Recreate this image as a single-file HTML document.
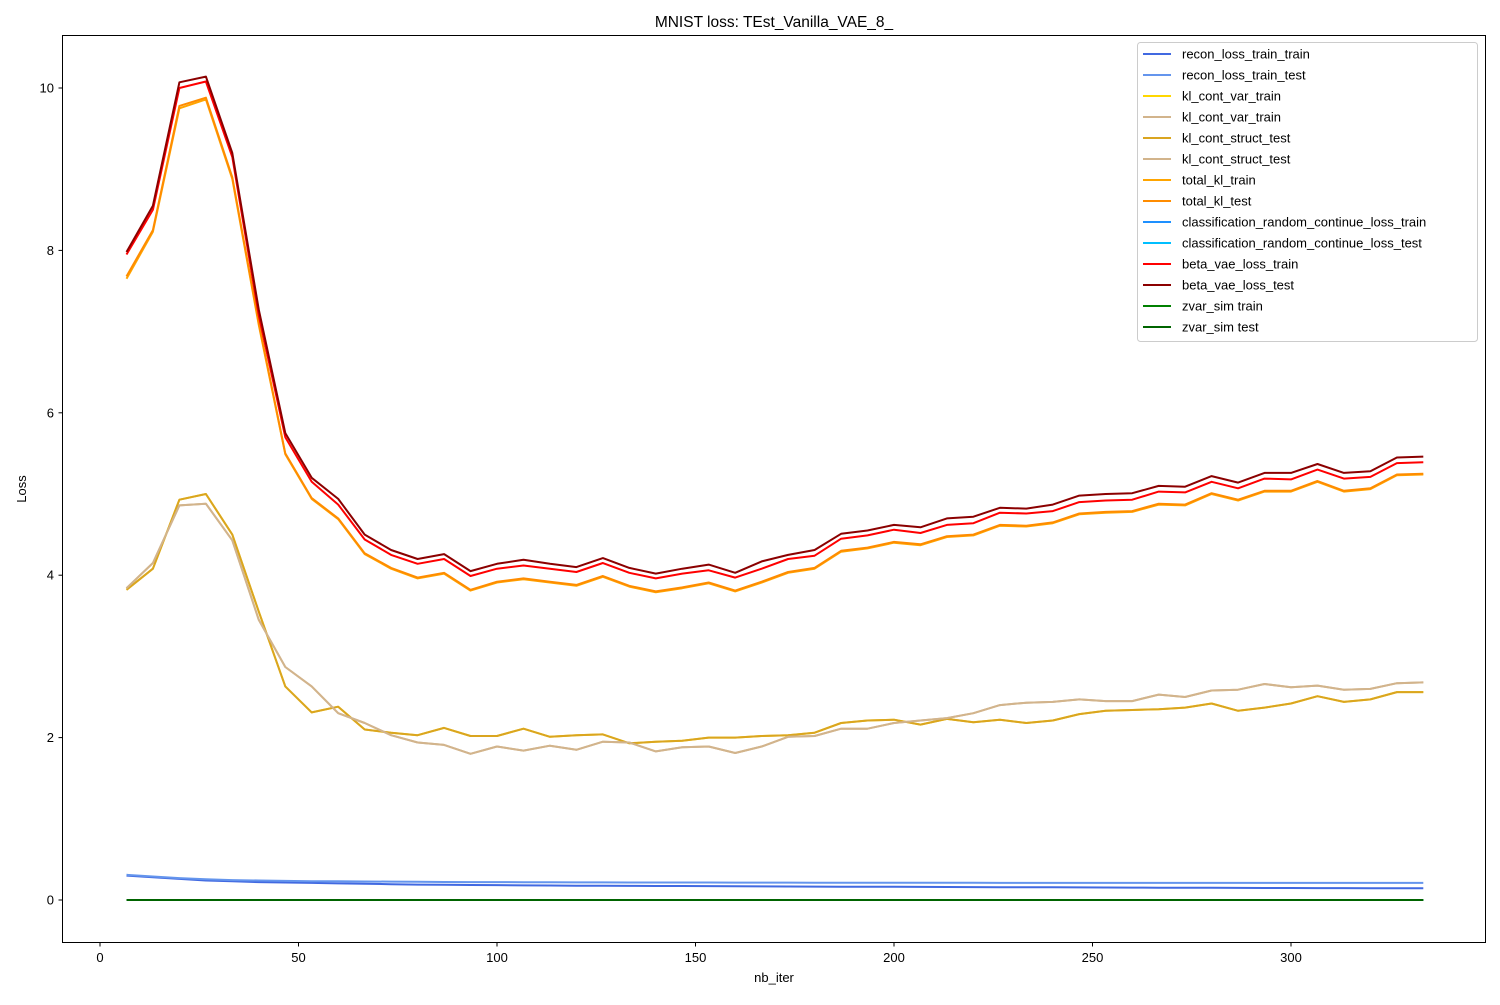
<!DOCTYPE html>
<html><head><meta charset="utf-8"><style>
body{margin:0;background:#fff;font-family:"Liberation Sans",sans-serif;}
svg text{font-family:"Liberation Sans",sans-serif;fill:#000;}
</style></head><body>
<svg id="chart" width="1500" height="1000" xmlns="http://www.w3.org/2000/svg"></svg>
<script>
const iters = Array.from({length:50},(_,i)=>(i+1)*20/3);
const reconTrain=[0.30,0.28,0.26,0.24,0.23,0.22,0.215,0.21,0.205,0.20,0.195,0.19,0.188,0.185,0.183,0.18,0.178,0.176,0.175,0.174,0.173,0.172,0.171,0.17,0.168,0.166,0.165,0.164,0.163,0.162,0.161,0.16,0.159,0.158,0.157,0.156,0.155,0.154,0.153,0.152,0.151,0.15,0.149,0.148,0.148,0.147,0.146,0.145,0.145,0.144];
const reconTest=[0.31,0.29,0.27,0.255,0.245,0.24,0.235,0.232,0.23,0.228,0.226,0.224,0.222,0.221,0.22,0.219,0.218,0.217,0.217,0.216,0.216,0.215,0.215,0.214,0.214,0.214,0.213,0.213,0.213,0.212,0.212,0.212,0.212,0.211,0.211,0.211,0.211,0.21,0.21,0.21,0.21,0.21,0.21,0.21,0.21,0.21,0.21,0.21,0.21,0.21];
const klGold=[3.82,4.08,4.93,5.0,4.5,3.55,2.63,2.31,2.38,2.1,2.06,2.03,2.12,2.02,2.02,2.11,2.01,2.03,2.04,1.93,1.95,1.96,2.0,2.0,2.02,2.03,2.06,2.18,2.21,2.22,2.16,2.23,2.19,2.22,2.18,2.21,2.29,2.33,2.34,2.35,2.37,2.42,2.33,2.37,2.42,2.51,2.44,2.47,2.56,2.56];
const klTan=[3.84,4.15,4.86,4.88,4.43,3.45,2.87,2.63,2.3,2.18,2.03,1.94,1.91,1.8,1.89,1.84,1.9,1.85,1.95,1.94,1.83,1.88,1.89,1.81,1.89,2.01,2.02,2.11,2.11,2.18,2.21,2.24,2.3,2.4,2.43,2.44,2.47,2.45,2.45,2.53,2.5,2.58,2.59,2.66,2.62,2.64,2.59,2.6,2.67,2.68];
const totalKlTest=[7.68,8.25,9.78,9.88,8.9,7.1,5.5,4.95,4.7,4.27,4.09,3.97,4.03,3.82,3.92,3.96,3.92,3.88,3.99,3.87,3.8,3.85,3.91,3.81,3.92,4.04,4.09,4.3,4.34,4.41,4.38,4.48,4.5,4.62,4.61,4.65,4.76,4.78,4.79,4.88,4.87,5.01,4.93,5.04,5.04,5.16,5.04,5.07,5.24,5.25];
const totalKlTrain=[7.65,8.23,9.75,9.86,8.88,7.08,5.49,4.94,4.69,4.26,4.08,3.96,4.02,3.81,3.91,3.95,3.91,3.87,3.98,3.86,3.79,3.84,3.9,3.8,3.91,4.03,4.08,4.29,4.33,4.4,4.37,4.47,4.49,4.61,4.6,4.64,4.75,4.77,4.78,4.87,4.86,5.0,4.92,5.03,5.03,5.15,5.03,5.06,5.23,5.24];
const betaTrain=[7.95,8.5,10.0,10.08,9.15,7.2,5.7,5.15,4.87,4.44,4.25,4.14,4.2,3.99,4.08,4.12,4.08,4.04,4.15,4.03,3.96,4.02,4.06,3.97,4.08,4.2,4.24,4.45,4.49,4.56,4.52,4.62,4.64,4.77,4.76,4.79,4.9,4.92,4.93,5.03,5.02,5.15,5.07,5.19,5.18,5.3,5.19,5.21,5.38,5.39];
const betaTest=[7.98,8.55,10.07,10.14,9.2,7.27,5.75,5.2,4.94,4.5,4.31,4.2,4.26,4.05,4.14,4.19,4.14,4.1,4.21,4.09,4.02,4.08,4.13,4.03,4.17,4.25,4.31,4.51,4.55,4.62,4.59,4.7,4.72,4.83,4.82,4.87,4.98,5.0,5.01,5.1,5.09,5.22,5.14,5.26,5.26,5.37,5.26,5.28,5.45,5.46];
const zeros=iters.map(()=>0);
const xTicks=[0,50,100,150,200,250,300];
const yTicks=[0,2,4,6,8,10];

const X=v=>100+v*3.97;
const Y=v=>900-v*81.2;
const svg=document.getElementById('chart');
const NS='http://www.w3.org/2000/svg';
function mk(tag,attrs,parent){const e=document.createElementNS(NS,tag);for(const k in attrs)e.setAttribute(k,attrs[k]);(parent||svg).appendChild(e);return e;}

const frame=mk('rect',{x:62.5,y:35.5,width:1423,height:907,fill:'none',stroke:'#000','stroke-width':1});



xTicks.forEach(t=>{
  const l=mk('line',{x1:X(t),x2:X(t),y1:942.5,y2:946.5,stroke:'#000'});
  
  
  const tx=mk('text',{x:X(t),y:962,'text-anchor':'middle','font-size':13});
  tx.textContent=t;
  
  
});
yTicks.forEach(t=>{
  const l=mk('line',{x1:58.5,x2:62.5,y1:Y(t),y2:Y(t),stroke:'#000'});
  
  
  const tx=mk('text',{x:54,y:Y(t)+4.5,'text-anchor':'end','font-size':13});
  tx.textContent=t;
  
  
});

const series=[
 ['recon_loss_train_train',reconTrain,'#4169E1'],
 ['recon_loss_train_test',reconTest,'#6495ED'],
 ['kl_cont_var_train',klGold,'#FFD700'],
 ['kl_cont_var_train',klTan,'#D2B48C'],
 ['kl_cont_struct_test',klGold,'#DAA520'],
 ['kl_cont_struct_test',klTan,'#D2B48C'],
 ['total_kl_train',totalKlTrain,'#FFA500'],
 ['total_kl_test',totalKlTest,'#FF8C00'],
 ['classification_random_continue_loss_train',zeros,'#1E90FF'],
 ['classification_random_continue_loss_test',zeros,'#00BFFF'],
 ['beta_vae_loss_train',betaTrain,'#FF0000'],
 ['beta_vae_loss_test',betaTest,'#8B0000'],
 ['zvar_sim train',zeros,'#008000'],
 ['zvar_sim test',zeros,'#006400']
];
series.forEach(([name,vals,col])=>{
  const d=vals.map((v,i)=>(i?'L':'M')+X(iters[i]).toFixed(1)+','+Y(v).toFixed(1)).join('');
  const p=mk('path',{d:d,fill:'none',stroke:col,'stroke-width':2,'stroke-linejoin':'round'});
  
  
});

const lg=mk('g',{});


mk('rect',{x:1137.5,y:42.5,width:340,height:299,rx:3,fill:'#fff','fill-opacity':0.8,stroke:'#ccc'},lg);
series.forEach(([name,vals,col],i)=>{
  const y=54+i*21;
  const l=mk('line',{x1:1143,x2:1171,y1:y,y2:y,stroke:col,'stroke-width':2},lg);
  
  
  const t=mk('text',{x:1182,y:y+4.5,'font-size':13},lg);
  t.textContent=name;
  
  
});

const title=mk('text',{x:774,y:27,'text-anchor':'middle','font-size':15.5});
title.textContent='MNIST loss: TEst_Vanilla_VAE_8_';


const xl=mk('text',{x:774,y:982,'text-anchor':'middle','font-size':13});
xl.textContent='nb_iter';


const yl=mk('text',{x:26,y:489,'text-anchor':'middle','font-size':13,transform:'rotate(-90 26 489)'});
yl.textContent='Loss';


</script>
</body></html>
